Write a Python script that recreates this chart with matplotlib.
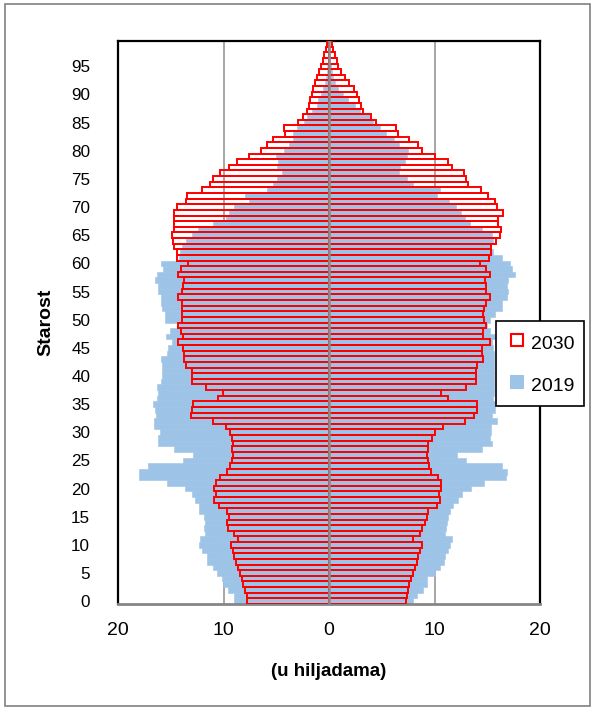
import matplotlib
matplotlib.use('Agg')
import matplotlib.pyplot as plt
from matplotlib.lines import Line2D
from matplotlib.patches import Rectangle
from matplotlib import font_manager as fm

# ---------------- data (thousands) ----------------
ages = list(range(100))

male_2019 = [9.0, 9.0, 9.54, 10.02, 10.17, 10.65, 10.96, 11.6, 11.6, 12.07,
             12.28, 12.22, 11.75, 11.82, 11.75, 11.85, 12.32, 12.32, 12.7, 13.02,
             13.65, 15.39, 17.98, 17.98, 17.12, 13.81, 12.86, 14.66, 16.24, 16.24,
             16.02, 16.56, 16.56, 16.43, 16.45, 16.7, 16.33, 16.24, 16.33, 15.92,
             15.86, 15.8, 15.8, 15.92, 15.39, 15.23, 14.91, 15.48, 15.07, 14.2,
             15.55, 15.55, 15.8, 15.92, 15.92, 16.18, 16.24, 16.5, 16.27, 15.7,
             15.92, 14.2, 14.12, 13.97, 13.55, 13.02, 12.39, 11.0, 9.8, 9.5,
             9.0, 7.55, 8.0, 5.9, 5.27, 4.95, 4.48, 4.95, 4.86, 5.05,
             4.3, 3.76, 3.44, 3.44, 3.05, 2.4, 2.1, 1.6, 1.17, 1.0,
             0.73, 0.54, 0.38, 0.28, 0.22, 0.15, 0.1, 0.07, 0.04, 0.02]

female_2019 = [8.0, 8.37, 8.88, 9.26, 9.32, 10.05, 10.52, 10.9, 11.0, 11.31,
               11.47, 11.63, 11.0, 11.09, 11.22, 11.31, 11.47, 11.79, 12.26, 12.58,
               13.43, 14.69, 16.78, 16.84, 16.37, 12.99, 12.1, 14.47, 15.42, 15.26,
               15.32, 15.32, 15.89, 15.42, 15.73, 15.73, 15.5, 15.6, 15.6, 15.6,
               15.6, 15.6, 15.6, 15.6, 15.6, 15.58, 15.42, 15.73, 15.26, 14.94,
               15.26, 15.73, 16.37, 16.37, 16.84, 17.0, 16.84, 17.0, 17.63, 17.31,
               17.16, 16.37, 15.58, 15.3, 15.5, 15.42, 14.53, 13.36, 12.9, 12.5,
               12.04, 11.4, 10.27, 10.5, 8.0, 7.36, 6.63, 6.73, 7.2, 7.36,
               7.46, 6.63, 6.16, 5.4, 4.83, 4.2, 3.89, 2.94, 2.46, 1.83,
               1.36, 0.9, 0.55, 0.35, 0.25, 0.18, 0.12, 0.08, 0.05, 0.03]

male_2030 = [7.75, 7.8, 7.96, 8.12, 8.28, 8.44, 8.59, 8.82, 9.0, 9.13,
             9.32, 8.59, 9.0, 9.54, 9.7, 9.48, 9.7, 10.4, 10.87, 10.74,
             10.87, 10.74, 10.33, 9.7, 9.38, 9.23, 9.07, 9.23, 9.07, 9.16,
             9.38, 9.79, 10.96, 13.08, 13.0, 12.92, 10.55, 10.08, 11.66, 13.02,
             13.02, 13.02, 13.59, 13.71, 13.71, 13.81, 14.28, 13.81, 14.03, 14.28,
             13.9, 13.9, 13.9, 13.9, 14.28, 13.97, 13.81, 13.71, 14.28, 14.03,
             13.4, 14.44, 14.38, 14.66, 14.82, 14.85, 14.69, 14.69, 14.69, 14.69,
             14.38, 13.55, 13.49, 12.07, 11.28, 10.96, 10.33, 9.48, 8.75, 7.55,
             6.41, 5.9, 5.34, 4.2, 4.27, 2.9, 2.5, 2.12, 1.93, 1.8,
             1.6, 1.55, 1.36, 1.1, 0.92, 0.73, 0.6, 0.44, 0.28, 0.16]

female_2030 = [7.3, 7.36, 7.52, 7.61, 7.74, 7.99, 8.15, 8.31, 8.47, 8.63,
               8.78, 8.0, 8.63, 8.78, 9.1, 9.32, 9.41, 10.2, 10.52, 10.46,
               10.58, 10.58, 10.36, 9.64, 9.51, 9.35, 9.26, 9.35, 9.41, 9.79,
               10.05, 10.84, 12.85, 13.75, 14.0, 14.06, 11.28, 10.58, 12.95, 13.9,
               13.9, 13.9, 14.0, 14.63, 14.47, 14.53, 15.26, 14.63, 14.63, 14.85,
               14.72, 14.63, 14.72, 14.85, 15.26, 14.88, 14.85, 14.79, 15.26, 14.85,
               14.31, 15.17, 15.32, 15.4, 15.8, 16.2, 16.3, 16.05, 16.05, 16.52,
               15.95, 15.73, 15.1, 14.4, 13.14, 12.95, 12.8, 11.69, 11.31, 10.05,
               8.78, 8.4, 7.62, 6.57, 6.35, 4.45, 3.95, 3.25, 3.03, 2.87,
               2.62, 2.4, 1.93, 1.52, 1.14, 0.89, 0.73, 0.57, 0.41, 0.25]

y_ticks = list(range(0, 100, 5))
x_ticks = [-20, -10, 0, 10, 20]
x_tick_labels = ['20', '10', '0', '10', '20']
series_labels = ['2030', '2019']
y_title = 'Starost'
x_title = '(u hiljadama)'

# ---------------- fonts ----------------
names = {f.name for f in fm.fontManager.ttflist}
fam = 'Liberation Sans Narrow' if 'Liberation Sans Narrow' in names else 'Liberation Sans'
plt.rcParams['font.family'] = [fam, 'DejaVu Sans']

W, H = 596, 709
fig = plt.figure(figsize=(W / 100, H / 100), dpi=100)

BLUE = '#9DC3E6'
RED = '#FF0000'

ax = fig.add_axes([118 / W, 1 - 604 / H, 422 / W, 563 / H])

# 2019 (filled)
ax.barh(ages, [-v for v in male_2019], height=1.0, color=BLUE,
        edgecolor=BLUE, linewidth=0.4, zorder=2)
ax.barh(ages, female_2019, height=1.0, color=BLUE,
        edgecolor=BLUE, linewidth=0.4, zorder=2)
# 2030 (outline)
ax.barh(ages, [-v for v in male_2030], height=1.0, facecolor='none',
        edgecolor=RED, linewidth=1.4, zorder=3)
ax.barh(ages, female_2030, height=1.0, facecolor='none',
        edgecolor=RED, linewidth=1.4, zorder=3)

# grid and centre axis
for xv in (-10, 10):
    ax.axvline(xv, color='#a6a6a6', lw=1.4, zorder=1)
ax.axvline(0, color='#8c8c8c', lw=1.8, zorder=4)

ax.set_xlim(-20, 20)
ax.set_ylim(-0.5, 99.5)

ax.set_yticks(y_ticks)
ax.set_yticklabels([str(t) for t in y_ticks], fontsize=12.3)
ax.set_xticks(x_ticks)
ax.set_xticklabels(x_tick_labels, fontsize=14)
ax.tick_params(axis='y', length=0, pad=20)
ax.tick_params(axis='x', length=0, pad=13)

for s in ('left', 'top', 'right'):
    ax.spines[s].set_color('#000000')
    ax.spines[s].set_linewidth(1.6)
ax.spines['bottom'].set_color('#868686')
ax.spines['bottom'].set_linewidth(2.0)

fig.text(329 / W, 1 - 672 / H, x_title, fontsize=13.5, fontweight='bold',
         ha='center', va='center')
fig.text(46 / W, 1 - 322 / H, y_title, fontsize=14, fontweight='bold',
         ha='center', va='center', rotation=90)

handles = [
    Line2D([], [], linestyle='none', marker='s', markersize=9.0,
           markerfacecolor='white', markeredgecolor=RED, markeredgewidth=1.5),
    Line2D([], [], linestyle='none', marker='s', markersize=9.5,
           markerfacecolor=BLUE, markeredgecolor=BLUE, markeredgewidth=0),
]
leg = fig.legend(handles, series_labels, loc='upper left',
                 bbox_to_anchor=(496 / W, 1 - 321 / H), fontsize=14,
                 frameon=True, fancybox=False, edgecolor='black', framealpha=1,
                 handlelength=1.2, handleheight=1.5, handletextpad=0.1,
                 labelspacing=0.95, borderpad=0.5, borderaxespad=0)
leg.get_frame().set_linewidth(1.2)

# outer chart border
fig.add_artist(Rectangle((5 / W, 3 / H), 585 / W, 702 / H, transform=fig.transFigure,
                         fill=False, edgecolor='#808080', linewidth=1.2))

fig.savefig('out.png', dpi=100)
